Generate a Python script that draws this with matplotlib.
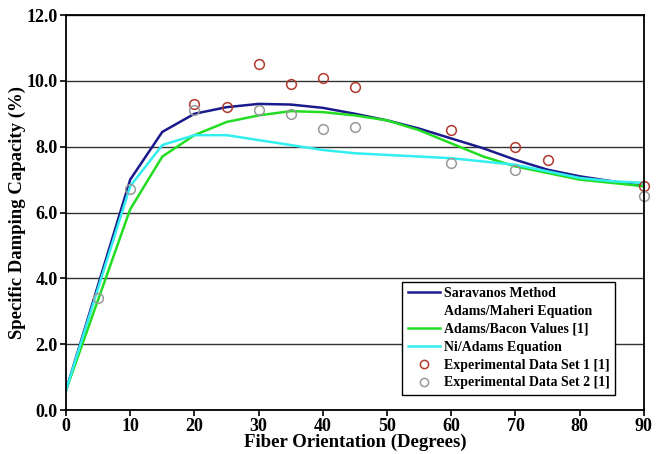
import matplotlib.pyplot as plt

plt.rcParams['font.family'] = ['Liberation Serif', 'DejaVu Serif']
plt.rcParams['font.weight'] = 'bold'

# Fiber orientation (degrees) for model curves
angles = [0, 10, 15, 20, 25, 30, 35, 40, 45, 50, 55, 60, 65, 70, 75, 80, 85, 90]
saravanos = [0.6, 7.0, 8.45, 9.0, 9.2, 9.3, 9.28, 9.18, 9.0, 8.8, 8.55, 8.25, 7.95, 7.6, 7.3, 7.1, 6.95, 6.8]
adams_bacon = [0.6, 6.1, 7.7, 8.35, 8.75, 8.95, 9.08, 9.05, 8.95, 8.8, 8.5, 8.1, 7.7, 7.4, 7.2, 7.0, 6.9, 6.8]
ni_adams = [0.6, 6.8, 8.05, 8.35, 8.35, 8.2, 8.05, 7.9, 7.8, 7.75, 7.7, 7.65, 7.55, 7.45, 7.25, 7.05, 6.95, 6.9]

# Experimental data
exp1_x = [20, 25, 30, 35, 40, 45, 60, 70, 75, 90]
exp1_y = [9.3, 9.2, 10.5, 9.9, 10.1, 9.8, 8.5, 8.0, 7.6, 6.8]
exp2_x = [5, 10, 20, 30, 35, 40, 45, 60, 70, 90]
exp2_y = [3.4, 6.7, 9.1, 9.1, 9.0, 8.55, 8.6, 7.5, 7.3, 6.5]

fig = plt.figure(figsize=(6.56, 4.54), dpi=100)
ax = fig.add_axes([0.1006, 0.0969, 0.881, 0.870])

ax.plot(angles, saravanos, color='#1a1a8c', lw=1.8, label='Saravanos Method')
ax.plot([], [], color='white', lw=1.8, label='Adams/Maheri Equation')
ax.plot(angles, adams_bacon, color='#22dd22', lw=1.8, label='Adams/Bacon Values [1]')
ax.plot(angles, ni_adams, color='#33eeee', lw=1.8, label='Ni/Adams Equation')
ax.plot(exp1_x, exp1_y, 'o', mfc='none', mec='#b03a2e', ms=7, mew=1.1, label='Experimental Data Set 1 [1]', clip_on=False)
ax.plot(exp2_x, exp2_y, 'o', mfc='none', mec='#999999', ms=7, mew=1.1, label='Experimental Data Set 2 [1]', clip_on=False)

ax.set_xlim(0, 90)
ax.set_ylim(0, 12)
ax.set_xticks(range(0, 91, 10))
ax.set_yticks([0, 2, 4, 6, 8, 10, 12])
ax.set_yticklabels(['%.1f' % v for v in [0, 2, 4, 6, 8, 10, 12]])
ax.yaxis.grid(True, color='#333333', lw=1)
ax.set_axisbelow(True)
ax.tick_params(labelsize=13, direction='out', length=4, width=1.2, pad=2)
for s in ax.spines.values():
    s.set_linewidth(1.3)

ax.set_xlabel('Fiber Orientation (Degrees)', fontsize=13.5, fontweight='bold', labelpad=-1)
ax.set_ylabel('Specific Damping Capacity (%)', fontsize=13.5, fontweight='bold', labelpad=0)

leg = ax.legend(loc='lower right', bbox_to_anchor=(0.95, 0.038), borderaxespad=0, fontsize=10,
                frameon=True, fancybox=False, edgecolor='black', framealpha=1,
                handlelength=2.3, handletextpad=0.3, labelspacing=0.35, borderpad=0.4,
                markerscale=0.85)
leg.get_frame().set_linewidth(1.0)

fig.savefig('out.png', dpi=100)
